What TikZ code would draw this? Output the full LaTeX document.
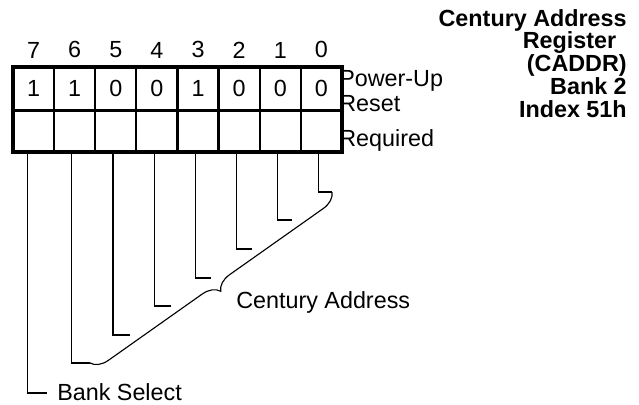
\documentclass[tikz,border=0pt]{standalone}
\usepackage{fontspec}
\setmainfont{Liberation Sans}
\usetikzlibrary{positioning,decorations.pathreplacing}
\tikzset{
  reg font/.style={font=\fontsize{16.6}{19}\selectfont},
  top cell/.style={
    draw,
    line width=0.8pt,
    minimum width=1cm,
    minimum height=1.0625cm,
    inner sep=0pt,
    reg font
  },
  low cell/.style={
    top cell,
    minimum height=1.0125cm
  },
  bit num/.style={
    inner sep=0pt,
    reg font
  },
  side label/.style={
    inner sep=0pt,
    align=left,
    font=\fontsize{16.6}{17.8}\selectfont
  },
  title label/.style={
    inner sep=0pt,
    align=right,
    font=\fontsize{16.6}{16.2}\selectfont\bfseries
  },
  border/.style={
    line width=2.5pt,
    line cap=rect
  },
  lead/.style={
    line width=0.8pt
  },
  group brace/.style={
    decorate,
    decoration={brace, amplitude=12pt},
    line width=0.8pt
  }
}

\begin{document}
\begin{tikzpicture}[x=0.025cm, y=-0.025cm]
  \useasboundingbox (0,0) rectangle (639,404);

  % Power-up reset values
  \node[top cell] (v7) at (33.5,88.75) {1};
  \node[top cell, right=0pt of v7] (v6) {1};
  \node[top cell, right=0pt of v6] (v5) {0};
  \node[top cell, right=0pt of v5] (v4) {0};
  \node[top cell, right=0pt of v4] (v3) {1};
  \node[top cell, right=0pt of v3] (v2) {0};
  \node[top cell, right=0pt of v2] (v1) {0};
  \node[top cell, right=0pt of v1] (v0) {0};

  % Required row (empty)
  \node[low cell, below=0pt of v7] (r7) {};
  \node[low cell, below=0pt of v6] (r6) {};
  \node[low cell, below=0pt of v5] (r5) {};
  \node[low cell, below=0pt of v4] (r4) {};
  \node[low cell, below=0pt of v3] (r3) {};
  \node[low cell, below=0pt of v2] (r2) {};
  \node[low cell, below=0pt of v1] (r1) {};
  \node[low cell, below=0pt of v0] (r0) {};

  % Bit numbers
  \node[bit num, above=6pt of v7] (n7) {7};
  \node[bit num, above=6pt of v6] (n6) {6};
  \node[bit num, above=6pt of v5] (n5) {5};
  \node[bit num, above=6pt of v4] (n4) {4};
  \node[bit num, above=6pt of v3] (n3) {3};
  \node[bit num, above=6pt of v2] (n2) {2};
  \node[bit num, above=6pt of v1] (n1) {1};
  \node[bit num, above=6pt of v0] (n0) {0};

  % Heavy outline
  \draw[border] (v7.north west) rectangle (r0.south east);
  \draw[border] (v7.south west) -- (v0.south east);

  % Row labels
  \node[side label, anchor=north west] (pwr) at (339,70.5) {Power-Up\\Reset};
  \node[side label, anchor=base west] (req) at (339,146) {Required};

  % Register title
  \node[title label, anchor=north east] (title) at (627,9)
    {Century Address\\Register\rule{0.45em}{0pt}\\(CADDR)\\Bank 2\\Index 51h};

  % Lead ends
  \coordinate (c0) at (332,192);
  \coordinate (c1) at (292,220);
  \coordinate (c2) at (252,249);
  \coordinate (c3) at (211,278);
  \coordinate (c4) at (171,306);
  \coordinate (c5) at (130,335);
  \coordinate (c6) at (90,363);
  \coordinate (c7) at (47,393);

  % Bit leads
  \draw[lead] ([xshift=-2pt]r0.south) |- (c0);
  \draw[lead] ([xshift=-2pt]r1.south) |- (c1);
  \draw[lead] ([xshift=-2pt]r2.south) |- (c2);
  \draw[lead] ([xshift=-2pt]r3.south) |- (c3);
  \draw[lead] ([xshift=-2pt]r4.south) |- (c4);
  \draw[lead] ([xshift=-2pt]r5.south) |- (c5);
  \draw[lead] ([xshift=-2pt]r6.south) |- (c6);
  \draw[lead] ([xshift=-4pt]r7.south) |- (c7);

  % Field brace and names
  \draw[group brace] (c0) -- (c6);
  \node[bit num, anchor=base west] (cadname) at (236,308) {Century Address};
  \node[bit num, anchor=base west] (bankname) at (57,400) {Bank Select};

\end{tikzpicture}
\end{document}
